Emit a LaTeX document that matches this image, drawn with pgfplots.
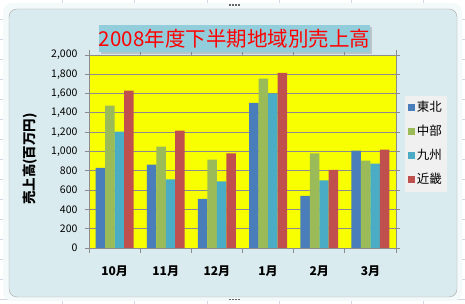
\documentclass[border=0pt]{standalone}
\usepackage{fontspec}
\setmainfont{Noto Sans CJK JP}
\usepackage{pgfplots}
\pgfplotsset{compat=1.18}
\usetikzlibrary{shadows}
\definecolor{tohoku}{HTML}{4A7EBB}
\definecolor{chubu}{HTML}{9BBB59}
\definecolor{kyushu}{HTML}{4BACC6}
\definecolor{kinki}{HTML}{C0504D}
\definecolor{chartbg}{HTML}{DAEBEF}
\definecolor{titlebg}{HTML}{92CDDC}
\definecolor{plotbg}{HTML}{F8FF00}
\definecolor{gridc}{HTML}{8C8C8C}
\definecolor{legbg}{HTML}{F0F0F0}
\definecolor{cellline}{HTML}{D0D7E5}
\pgfplotstableread{
x tohoku chubu kyushu kinki
0 830 1475 1205 1630
1 865 1050 710 1215
2 510 915 690 980
3 1505 1755 1600 1815
4 540 980 700 810
5 1010 905 875 1020
}\sales
\begin{document}
\begin{tikzpicture}[x=1pt,y=1pt]
\useasboundingbox (0,0) rectangle (465,304);
% sheet background
\fill[white] (0,0) rectangle (465,304);
\foreach \gx in {62,134,207,279,351,423}{\draw[cellline] (\gx,0) -- (\gx,304);}
\foreach \gy in {5,25,...,305}{\draw[cellline] (0,\gy) -- (465,\gy);}
% chart frame
\fill[white!70!chartbg, rounded corners=9pt] (3,3) rectangle (462,301);
\draw[fill=chartbg, draw=black!35, rounded corners=8pt] (9,7) rectangle (457,295);
\foreach \hx in {0,3,6,9}{\fill[black!60] (229+\hx,298) rectangle (230.5+\hx,299.5);}
\foreach \hx in {0,3,6,9}{\fill[black!60] (229+\hx,3.5) rectangle (230.5+\hx,5);}
\begin{axis}[
  at={(89pt,56pt)}, anchor=south west,
  width=307pt, height=193pt, scale only axis,
  xmin=-0.5, xmax=5.5, ymin=0, ymax=2000,
  ybar=0pt, bar width=0.185,
  axis background/.style={fill=plotbg},
  axis line style={gridc, line width=0.8pt},
  xtick={0,...,5},
  xticklabels={10月,11月,12月,1月,2月,3月},
  major x tick style={draw=none},
  minor xtick={-0.5,0.5,...,5.5},
  minor x tick style={gridc, line width=0.8pt},
  minor tick length=5pt,
  ytick={0,200,...,2000},
  major tick length=4pt,
  tick align=outside,
  ytick style={gridc, line width=0.8pt},
  ymajorgrids, grid style={gridc, line width=0.8pt},
  axis on top=false,
  xticklabel style={font=\fontsize{12}{12}\selectfont\bfseries, anchor=center, yshift=-19pt},
  yticklabel style={font=\fontsize{10.5}{10.5}\selectfont, xshift=-4pt},
  /pgf/number format/assume math mode=true,
  /pgf/number format/.cd, 1000 sep={,}, /pgfplots/.cd,
  scaled y ticks=false,
  ylabel={売上高(百万円)},
  ylabel style={at={(axis description cs:-0.192,0.461)}, anchor=center, font=\fontsize{13.5}{13.5}\selectfont\bfseries},
  legend style={at={(axis description cs:1.0285,0.788)}, anchor=north west,
    fill=legbg, draw=none, font=\fontsize{12.5}{12.5}\selectfont,
    row sep=8.5pt, inner xsep=3pt, inner ysep=4pt,
    nodes={text height=9.5pt, text depth=2pt, inner sep=2pt},
    column sep=0pt},
  legend cell align=left,
  legend image code/.code={\fill[#1,draw=none] (0pt,-3.5pt) rectangle (7pt,3.5pt);},
]
\addplot[fill=tohoku, draw=none] table[x=x,y=tohoku]{\sales};
\addplot[fill=chubu, draw=none] table[x=x,y=chubu]{\sales};
\addplot[fill=kyushu, draw=none] table[x=x,y=kyushu]{\sales};
\addplot[fill=kinki, draw=none] table[x=x,y=kinki]{\sales};
\legend{東北,中部,九州,近畿}
\end{axis}
\node[fill=titlebg, minimum width=265pt, minimum height=27pt, inner sep=0pt,
  drop shadow={opacity=0.35, shadow xshift=2pt, shadow yshift=-2pt},
  text=red, font=\fontsize{20.5}{20.5}\selectfont] at (234.5,265.5) {2008年度下半期地域別売上高};
\end{tikzpicture}
\end{document}
